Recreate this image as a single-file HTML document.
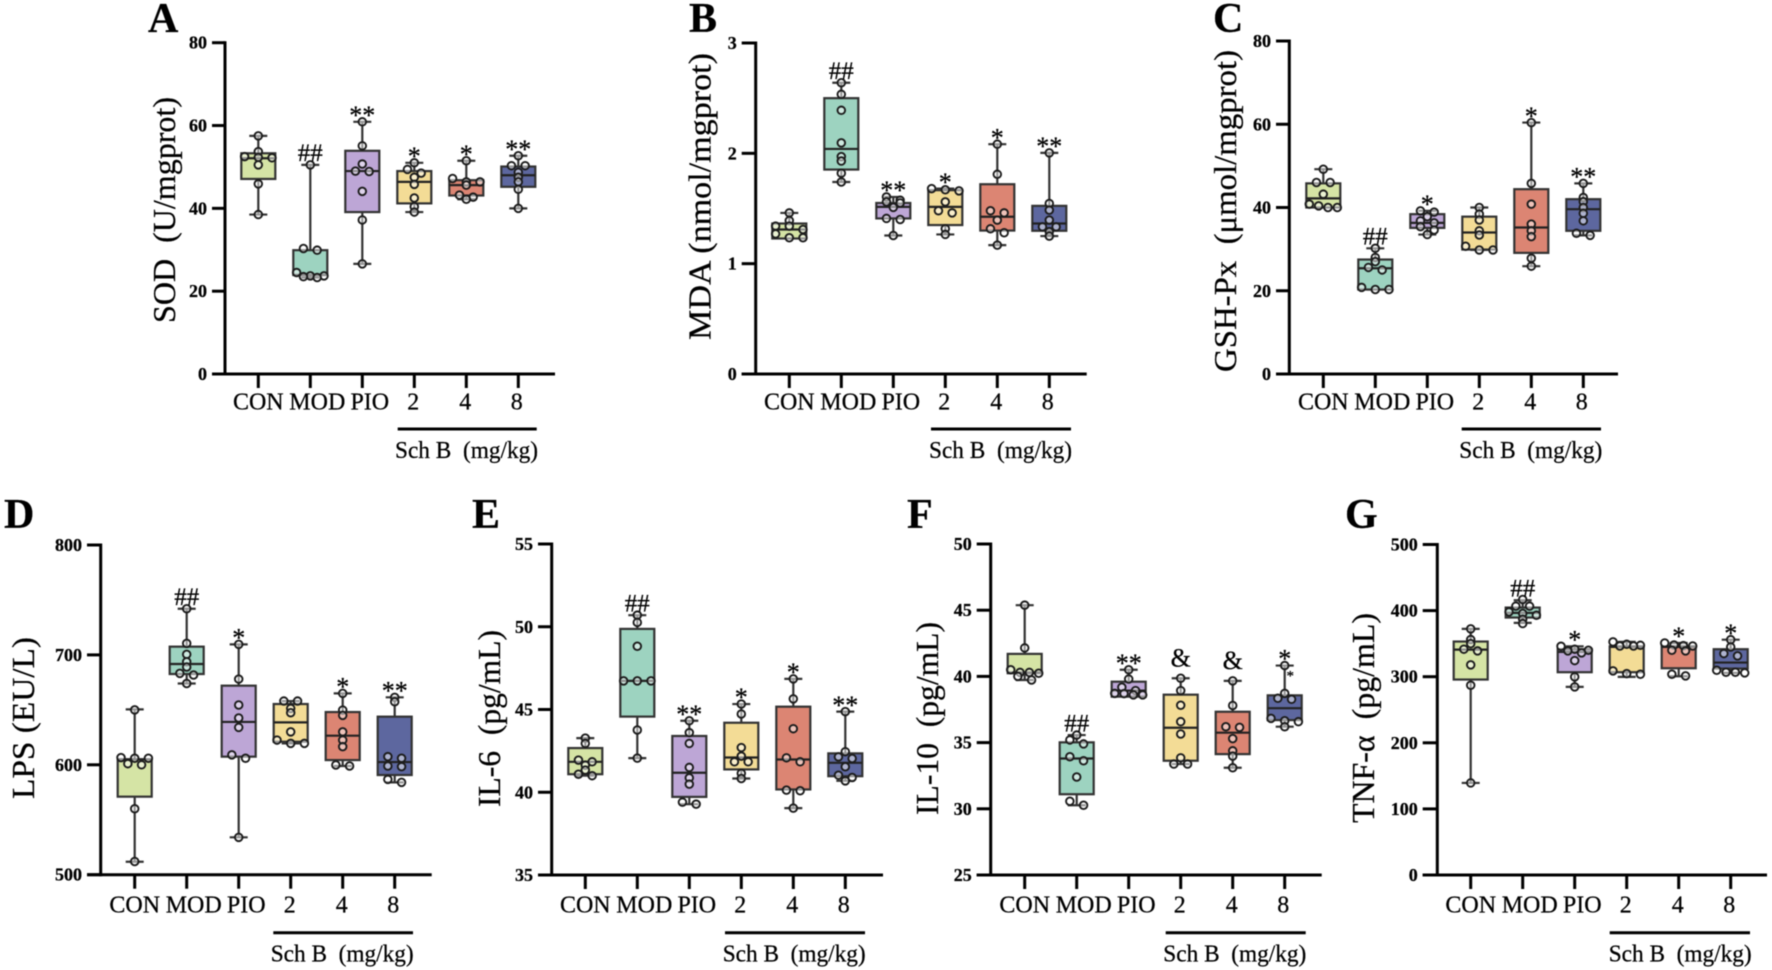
<!DOCTYPE html>
<html lang="en">
<head>
<meta charset="utf-8">
<title>Box plots of oxidative stress and inflammatory markers</title>
<style>
html,body{margin:0;padding:0;background:#fff;}
svg{display:block;filter:blur(0.4px);}
text{font-family:"Liberation Serif",serif;fill:#000;stroke:#000;stroke-width:0.25px;}
.letter{font-size:42px;font-weight:bold;}
.ytitle{font-size:32px;}
.group{font-size:24px;}
</style>
</head>
<body>
<svg id="figure" xmlns="http://www.w3.org/2000/svg" width="1772" height="970" viewBox="0 0 1772 970">
<rect x="0" y="0" width="1772" height="970" fill="#fff"/>

<g id="panel-a">
<text class="letter" x="148" y="32">A</text>
<text class="ytitle" transform="translate(175,323) rotate(-90)" textLength="226" lengthAdjust="spacingAndGlyphs" xml:space="preserve">SOD  (U/mgprot)</text>
<line x1="397.7" x2="536.7" y1="429" y2="429" stroke="#000" stroke-width="3"/>
<text class="group" x="395" y="458" textLength="143" lengthAdjust="spacingAndGlyphs" xml:space="preserve">Sch B  (mg/kg)</text>
</g>

<g id="panel-b">
<text class="letter" x="689" y="32">B</text>
<text class="ytitle" transform="translate(710.7,340) rotate(-90)" textLength="287" lengthAdjust="spacingAndGlyphs">MDA (nmol/mgprot)</text>
<line x1="931" x2="1071" y1="429" y2="429" stroke="#000" stroke-width="3"/>
<text class="group" x="929" y="458" textLength="143" lengthAdjust="spacingAndGlyphs" xml:space="preserve">Sch B  (mg/kg)</text>
</g>

<g id="panel-c">
<text class="letter" x="1213" y="32">C</text>
<text class="ytitle" transform="translate(1236,372) rotate(-90)" textLength="322" lengthAdjust="spacingAndGlyphs" xml:space="preserve">GSH-Px  (μmol/mgprot)</text>
<line x1="1461.7" x2="1601" y1="429" y2="429" stroke="#000" stroke-width="3"/>
<text class="group" x="1459.3" y="458" textLength="143" lengthAdjust="spacingAndGlyphs" xml:space="preserve">Sch B  (mg/kg)</text>
</g>

<g id="panel-d">
<text class="letter" x="4" y="528">D</text>
<text class="ytitle" transform="translate(34,799) rotate(-90)" textLength="162" lengthAdjust="spacingAndGlyphs">LPS (EU/L)</text>
<line x1="273.3" x2="413" y1="932.7" y2="932.7" stroke="#000" stroke-width="3"/>
<text class="group" x="270.7" y="961.7" textLength="143" lengthAdjust="spacingAndGlyphs" xml:space="preserve">Sch B  (mg/kg)</text>
</g>

<g id="panel-e">
<text class="letter" x="472" y="528">E</text>
<text class="ytitle" transform="translate(500,807) rotate(-90)" textLength="177" lengthAdjust="spacingAndGlyphs" xml:space="preserve">IL-6  (pg/mL)</text>
<line x1="725" x2="865" y1="932.7" y2="932.7" stroke="#000" stroke-width="3"/>
<text class="group" x="722.7" y="961.7" textLength="143" lengthAdjust="spacingAndGlyphs" xml:space="preserve">Sch B  (mg/kg)</text>
</g>

<g id="panel-f">
<text class="letter" x="907" y="528">F</text>
<text class="ytitle" transform="translate(938,815) rotate(-90)" textLength="193" lengthAdjust="spacingAndGlyphs" xml:space="preserve">IL-10  (pg/mL)</text>
<line x1="1165.7" x2="1305.7" y1="932.7" y2="932.7" stroke="#000" stroke-width="3"/>
<text class="group" x="1163.3" y="961.7" textLength="143" lengthAdjust="spacingAndGlyphs" xml:space="preserve">Sch B  (mg/kg)</text>
</g>

<g id="panel-g">
<text class="letter" x="1345" y="528">G</text>
<text class="ytitle" transform="translate(1374,823) rotate(-90)" textLength="210" lengthAdjust="spacingAndGlyphs" xml:space="preserve">TNF-α  (pg/mL)</text>
<line x1="1609.7" x2="1750" y1="932.7" y2="932.7" stroke="#000" stroke-width="3"/>
<text class="group" x="1608.7" y="961.7" textLength="143" lengthAdjust="spacingAndGlyphs" xml:space="preserve">Sch B  (mg/kg)</text>
</g>
</svg>

<script>
// ---- shared categories ----
const categories = ['CON', 'MOD', 'PIO', '2', '4', '8'];

// ---- A: SOD ----
const sodTicks = [0, 20, 40, 60, 80];
const sodQ1 = [47.1, 23.9, 39.1, 41.2, 43.1, 45.2];
const sodMedian = [52.1, 23.9, 49.0, 46.4, 45.6, 48.0];
const sodQ3 = [53.3, 29.9, 53.9, 49.0, 46.8, 50.1];
const sodLow = [38.5, 23.3, 26.6, 39.1, 42.2, 40.0];
const sodHigh = [57.5, 50.5, 60.9, 51.0, 51.5, 52.7];
const sodPoints = [
  [57.5, 53.7, 52.5, 52.3, 52.2, 50.5, 45.9, 38.5],
  [50.5, 30.3, 29.9, 24.5, 23.7, 23.7, 23.5, 23.3],
  [60.9, 55.1, 50.7, 49.0, 48.9, 44.1, 37.2, 26.6],
  [51.0, 49.4, 48.5, 47.5, 45.8, 42.5, 40.4, 39.1],
  [51.5, 47.2, 46.4, 46.4, 45.6, 43.2, 42.7, 42.2],
  [52.7, 50.3, 50.3, 48.7, 47.5, 46.4, 44.6, 40.0]
];
const sodMarks = ['', '##', '**', '*', '*', '**'];

// ---- B: MDA ----
const mdaTicks = [0, 1, 2, 3];
const mdaQ1 = [1.228, 1.853, 1.41, 1.35, 1.30, 1.298];
const mdaMedian = [1.31, 2.04, 1.515, 1.515, 1.425, 1.364];
const mdaQ3 = [1.364, 2.50, 1.55, 1.666, 1.72, 1.524];
const mdaLow = [1.23, 1.74, 1.255, 1.265, 1.168, 1.25];
const mdaHigh = [1.46, 2.64, 1.605, 1.68, 2.083, 2.004];
const mdaPoints = [
  [1.46, 1.39, 1.34, 1.34, 1.31, 1.27, 1.235, 1.235],
  [2.64, 2.535, 2.39, 2.095, 1.97, 1.93, 1.82, 1.74],
  [1.605, 1.575, 1.56, 1.55, 1.51, 1.41, 1.40, 1.255],
  [1.68, 1.67, 1.66, 1.56, 1.48, 1.46, 1.316, 1.265],
  [2.083, 1.81, 1.48, 1.46, 1.395, 1.316, 1.28, 1.168],
  [2.004, 1.545, 1.485, 1.395, 1.334, 1.334, 1.29, 1.25]
];
const mdaMarks = ['', '##', '**', '*', '*', '**'];

// ---- C: GSH-Px ----
const gshTicks = [0, 20, 40, 60, 80];
const gshQ1 = [40.0, 20.3, 35.1, 29.9, 29.1, 34.4];
const gshMedian = [42.2, 25.4, 36.3, 34.0, 35.2, 39.6];
const gshQ3 = [45.8, 27.5, 38.4, 37.8, 44.4, 42.0];
const gshLow = [40.0, 20.3, 33.5, 29.8, 25.9, 33.3];
const gshHigh = [49.2, 30.2, 39.2, 40.0, 60.4, 45.8];
const gshPoints = [
  [49.2, 46.0, 46.0, 43.2, 40.8, 40.4, 40.0, 40.0],
  [30.2, 28.0, 27.0, 25.6, 25.0, 20.8, 20.3, 20.3],
  [39.2, 38.9, 37.8, 36.8, 36.3, 35.4, 34.6, 33.5],
  [40.0, 38.4, 37.0, 34.4, 33.4, 30.7, 29.8, 29.8],
  [60.4, 45.8, 40.8, 36.0, 34.4, 33.0, 27.8, 25.9],
  [45.8, 42.4, 41.4, 40.0, 38.6, 36.8, 33.8, 33.3]
];
const gshMarks = ['', '##', '*', '', '*', '**'];

// ---- D: LPS ----
const lpsTicks = [500, 600, 700, 800];
const lpsQ1 = [571, 682.6, 607.4, 621, 604.3, 590.7];
const lpsMedian = [605, 691.7, 639, 638.6, 626.5, 602.5];
const lpsQ3 = [605, 707.5, 672, 655.3, 648, 643.8];
const lpsLow = [511.8, 674, 534, 619.5, 598.9, 584];
const lpsHigh = [650.4, 742, 709.6, 658, 665, 661.4];
const lpsPoints = [
  [650, 606.5, 606, 606, 601, 600, 560, 512],
  [742, 710.5, 700.5, 693.8, 689, 683.2, 681.7, 674],
  [709.6, 678, 654.4, 642.6, 634, 609, 606, 534],
  [658, 658, 651.3, 647.4, 630, 622.5, 619.5, 619.5],
  [665, 649.8, 645, 630, 622.5, 616.5, 599.8, 598.9],
  [661.4, 657.4, 607.4, 606, 598.9, 598.3, 586.7, 584]
];
const lpsMarks = ['', '##', '*', '', '*', '**'];

// ---- E: IL-6 ----
const il6Ticks = [35, 40, 45, 50, 55];
const il6Q1 = [41.09, 44.57, 39.72, 41.38, 40.17, 40.97];
const il6Median = [41.84, 46.73, 41.18, 42.1, 41.98, 41.78];
const il6Q3 = [42.67, 49.87, 43.4, 44.2, 45.17, 42.35];
const il6Low = [41.0, 42.06, 39.28, 40.83, 39.04, 40.69];
const il6High = [43.27, 50.7, 44.32, 45.33, 46.85, 44.87];
const il6Points = [
  [43.27, 42.95, 41.94, 41.84, 41.64, 41.34, 41.09, 41.0],
  [50.7, 50.26, 48.82, 46.73, 46.73, 46.73, 43.76, 42.06],
  [44.32, 43.6, 42.95, 41.5, 40.87, 40.49, 39.4, 39.28],
  [45.33, 44.73, 42.7, 42.18, 41.84, 41.84, 41.14, 40.83],
  [46.85, 45.64, 43.84, 42.08, 41.84, 40.13, 40.09, 39.04],
  [44.87, 42.45, 42.14, 42.04, 41.54, 41.03, 40.89, 40.69]
];
const il6Marks = ['', '##', '**', '*', '*', '**'];

// ---- F: IL-10 ----
const il10Ticks = [25, 30, 35, 40, 45, 50];
const il10Q1 = [40.24, 31.1, 38.47, 33.63, 34.13, 36.7];
const il10Median = [40.3, 33.8, 38.93, 36.12, 35.75, 37.6];
const il10Q3 = [41.7, 35.02, 39.6, 38.62, 37.33, 38.57];
const il10Low = [39.73, 30.27, 38.6, 33.38, 33.1, 36.2];
const il10High = [45.38, 35.57, 40.5, 39.86, 39.66, 40.82];
const il10Points = [
  [45.38, 42.15, 40.5, 40.3, 40.3, 40.24, 40.0, 39.73],
  [35.57, 35.2, 34.9, 33.93, 33.63, 32.4, 30.57, 30.27],
  [40.5, 39.8, 39.18, 38.93, 38.72, 38.7, 38.6, 38.6],
  [39.86, 38.93, 37.82, 36.58, 35.65, 33.85, 33.38, 33.38],
  [39.66, 37.8, 36.2, 36.15, 35.3, 34.38, 33.98, 33.1],
  [40.82, 38.72, 38.35, 38.27, 36.83, 36.65, 36.58, 36.2]
];
const il10Marks = ['', '##', '**', '&', '&', '*'];

// ---- G: TNF-alpha ----
const tnfTicks = [0, 100, 200, 300, 400, 500];
const tnfQ1 = [295.7, 389.5, 306.8, 306.8, 312.8, 312.3];
const tnfMedian = [341, 396.6, 337.5, 345, 345, 321.4];
const tnfQ3 = [353.2, 404.6, 341.6, 346, 346, 341.6];
const tnfLow = [139.3, 381.4, 284.6, 299.7, 300.7, 305.8];
const tnfHigh = [372.4, 415.7, 346, 352.7, 351, 356];
const tnfPoints = [
  [372.4, 356.2, 350, 341.6, 339, 317.9, 287.1, 139.3],
  [416.8, 406.7, 406.7, 398, 395.6, 393, 387, 380.4],
  [346, 341.6, 339, 340, 336, 324.4, 299.7, 284.6],
  [352.7, 349, 347.5, 346.5, 346.5, 308.8, 303.7, 304.7],
  [351, 348, 347, 346.5, 339, 340, 303.7, 301.2],
  [356, 345, 335, 331.5, 309.8, 306.8, 305.8, 306.8]
];
const tnfMarks = ['', '##', '*', '', '*', '*'];

// ---- style and layout (not data) ----
const boxFills = ['#d5e4a5', '#9dd3c0', '#bda6d6', '#f3dc96', '#dc8573', '#5d679f'];
const panelLayouts = [
  {g:'panel-a', key:'sod', axisX:225, left:212, right:555, top:42.7, bottom:374, tick0:258.3, labelY:409.3, ticks:sodTicks, q1:sodQ1, med:sodMedian, q3:sodQ3, low:sodLow, high:sodHigh, pts:sodPoints, marks:sodMarks},
  {g:'panel-b', key:'mda', axisX:755.7, left:741.7, right:1086.7, top:43, bottom:374, tick0:789.3, labelY:409.3, ticks:mdaTicks, q1:mdaQ1, med:mdaMedian, q3:mdaQ3, low:mdaLow, high:mdaHigh, pts:mdaPoints, marks:mdaMarks},
  {g:'panel-c', key:'gsh-px', axisX:1289.3, left:1276, right:1618, top:41, bottom:374, tick0:1323.3, labelY:409.3, ticks:gshTicks, q1:gshQ1, med:gshMedian, q3:gshQ3, low:gshLow, high:gshHigh, pts:gshPoints, marks:gshMarks},
  {g:'panel-d', key:'lps', axisX:100.7, left:87, right:431.7, top:545, bottom:874.7, tick0:134.7, labelY:912.7, ticks:lpsTicks, q1:lpsQ1, med:lpsMedian, q3:lpsQ3, low:lpsLow, high:lpsHigh, pts:lpsPoints, marks:lpsMarks},
  {g:'panel-e', key:'il-6', axisX:551.7, left:538, right:883, top:544, bottom:875, tick0:585.3, labelY:912.7, ticks:il6Ticks, q1:il6Q1, med:il6Median, q3:il6Q3, low:il6Low, high:il6High, pts:il6Points, marks:il6Marks},
  {g:'panel-f', key:'il-10', axisX:990.7, left:976.7, right:1321.7, top:544, bottom:875, tick0:1024.7, labelY:912.7, ticks:il10Ticks, q1:il10Q1, med:il10Median, q3:il10Q3, low:il10Low, high:il10High, pts:il10Points, marks:il10Marks},
  {g:'panel-g', key:'tnf-alpha', axisX:1437.3, left:1422.7, right:1767, top:544.5, bottom:875, tick0:1470.7, labelY:912.7, ticks:tnfTicks, q1:tnfQ1, med:tnfMedian, q3:tnfQ3, low:tnfLow, high:tnfHigh, pts:tnfPoints, marks:tnfMarks}
];
const SPACING = 52;
const labelShift = [0, 7, 7.5, -1, -1, -1.5];
const NS = 'http://www.w3.org/2000/svg';

function make(parent, tag, attrs, txt) {
  const el = document.createElementNS(NS, tag);
  for (const k in attrs) el.setAttribute(k, attrs[k]);
  if (txt !== undefined) el.textContent = txt;
  parent.appendChild(el);
  return el;
}

function linearY(layout) {
  const lo = layout.ticks[0];
  const hi = layout.ticks[layout.ticks.length - 1];
  return v => layout.bottom - (v - lo) / (hi - lo) * (layout.bottom - layout.top);
}

function swarmOffsets(ys) {
  // groups near-equal values into rows and spreads each row symmetrically
  const order = ys.map((y, i) => [y, i]).sort((a, b) => a[0] - b[0]);
  const out = new Array(ys.length).fill(0);
  let row = [];
  const flush = () => {
    const n = row.length;
    const step = n > 1 ? Math.min(13.7, 28 / (n - 1)) : 0;
    row.forEach((it, j) => { out[it[1]] = (j - (n - 1) / 2) * step; });
    row = [];
  };
  order.forEach(it => {
    if (row.length && it[0] - row[0][0] > 4) flush();
    row.push(it);
  });
  flush();
  return out;
}

function drawAxes(layout, g, y) {
  const yAxis = make(g, 'line', {x1:layout.axisX, x2:layout.axisX, y1:layout.top - 1.5, y2:layout.bottom + 1.5, stroke:'#000', 'stroke-width':3});
  
  
  const xAxis = make(g, 'line', {x1:layout.left, x2:layout.right, y1:layout.bottom, y2:layout.bottom, stroke:'#000', 'stroke-width':3});
  
  
  layout.ticks.forEach(t => {
    const mark = make(g, 'line', {x1:layout.left, x2:layout.axisX, y1:y(t), y2:y(t), stroke:'#000', 'stroke-width':3});
    
    
    const label = make(g, 'text', {x:layout.left - 5, y:y(t) + 6, 'text-anchor':'end', 'font-size':18, 'font-weight':'bold'}, String(t));
    
    
  });
  categories.forEach((c, i) => {
    const x = layout.tick0 + i * SPACING;
    const mark = make(g, 'line', {x1:x, x2:x, y1:layout.bottom, y2:layout.bottom + 14, stroke:'#000', 'stroke-width':3});
    
    
    const label = make(g, 'text', {x:x + labelShift[i], y:layout.labelY, 'text-anchor':'middle', 'font-size':24}, c);
    
    
  });
}

function drawBox(layout, g, y, i) {
  const c = categories[i];
  const x = layout.tick0 + i * SPACING;
  const box = make(g, 'g', {});
  
  
  const whisker = make(box, 'line', {x1:x, x2:x, y1:y(layout.low[i]), y2:y(layout.high[i]), stroke:'#333', 'stroke-width':2.2});
  
  
  [layout.low[i], layout.high[i]].forEach(v => {
    const cap = make(box, 'line', {x1:x - 9, x2:x + 9, y1:y(v), y2:y(v), stroke:'#333', 'stroke-width':2.2});
    
    
  });
  const rect = make(box, 'rect', {x:x - 17, y:y(layout.q3[i]), width:34, height:y(layout.q1[i]) - y(layout.q3[i]), fill:boxFills[i], stroke:'#333', 'stroke-width':2.2});
  
  
  const med = make(box, 'line', {x1:x - 17, x2:x + 17, y1:y(layout.med[i]), y2:y(layout.med[i]), stroke:'#222', 'stroke-width':2.2});
  
  
  const ys = layout.pts[i].map(y);
  const off = swarmOffsets(ys);
  ys.forEach((py, j) => {
    const pt = make(box, 'circle', {cx:x + off[j], cy:py, r:3.8, fill:'rgba(255,255,255,0.5)', stroke:'#1c1c1c', 'stroke-width':1.9});
    
    
  });
  const sym = layout.marks[i];
  if (sym) {
    const top = y(layout.high[i]);
    const isStar = sym.charAt(0) === '*';
    const isAmp = sym === '&';
    const by = isStar ? top + 2.2 : (isAmp ? top - 12 : top - 3.7);
    const note = make(box, 'text', {x:x, y:by, 'text-anchor':'middle', 'font-size':isAmp ? 26 : (isStar ? 26 : 25)}, sym);
    
    
  }
  if (layout.key === 'il-10' && i === 5) {
    const extra = make(box, 'text', {x:x + 5.5, y:y(layout.high[i]) + 15, 'text-anchor':'middle', 'font-size':15}, '*');
    
    
  }
}

panelLayouts.forEach(layout => {
  const g = document.getElementById(layout.g);
  const y = linearY(layout);
  categories.forEach((c, i) => drawBox(layout, g, y, i));
  drawAxes(layout, g, y);
});
</script>
</body>
</html>
